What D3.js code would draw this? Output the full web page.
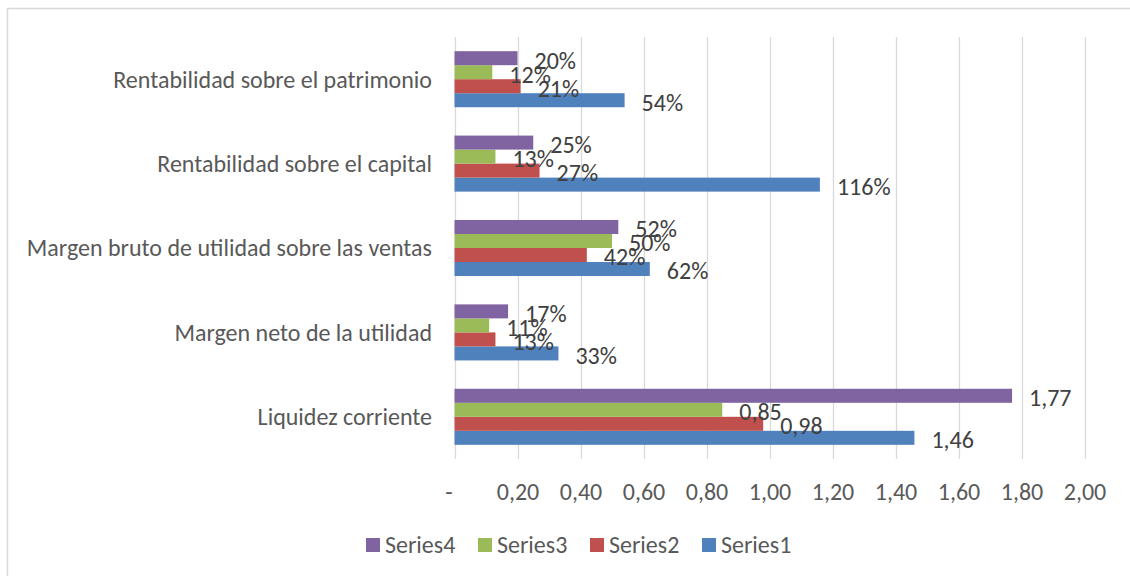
<!DOCTYPE html>
<html>
<head>
<meta charset="utf-8">
<script src="https://cdn.jsdelivr.net/npm/d3@7"></script>
<style>
  body { margin: 0; background: #ffffff; }
  text { font-family: Carlito, Lato, "Liberation Sans", sans-serif; }
</style>
</head>
<body>
<div id="chart"></div>
<script>
//Chart data, categories listed bottom to top
var categories = ["Liquidez corriente", "Margen neto de la utilidad", "Margen bruto de utilidad sobre las ventas", "Rentabilidad sobre el capital", "Rentabilidad sobre el patrimonio"];
var labelFormats = ["num", "pct", "pct", "pct", "pct"];
var seriesNames = ["Series1", "Series2", "Series3", "Series4"];
var series1 = [1.46, 0.33, 0.62, 1.16, 0.54];
var series2 = [0.98, 0.13, 0.42, 0.27, 0.21];
var series3 = [0.85, 0.11, 0.50, 0.13, 0.12];
var series4 = [1.77, 0.17, 0.52, 0.25, 0.20];
var tickValues = [0, 0.2, 0.4, 0.6, 0.8, 1.0, 1.2, 1.4, 1.6, 1.8, 2.0];
var colors = ["#4F81BD", "#C0504D", "#9BBB59", "#8064A2"];

var allSeries = [series1, series2, series3, series4];

//Canvas size
var svgWidth = 1130;
var svgHeight = 576;
var fontSize = "24px";

var svg = d3.select("#chart")
    .append("svg")
    .attr("width", svgWidth)
    .attr("height", svgHeight);

//Chart border
svg.append("rect")
    .attr("x", 7.5)
    .attr("y", 8.5)
    .attr("width", 1140)
    .attr("height", 600)
    .attr("fill", "none")
    .attr("stroke", "#D9D9D9")
    .attr("stroke-width", 1.5);

//Plot area
var plot = {left: 454.5, right: 1084.5, top: 37, bottom: 459};

var xScale = d3.scaleLinear()
    .domain([0, 2])
    .range([plot.left, plot.right]);

//Categories run bottom to top
var yScale = d3.scaleBand()
    .domain(categories)
    .range([plot.bottom, plot.top])
    .paddingInner(0.336)
    .paddingOuter(0.168);

//Series inside a group, Series1 at the bottom
var ySub = d3.scaleBand()
    .domain(seriesNames)
    .range([yScale.bandwidth(), 0]);

//Gridlines
svg.append("g")
    .selectAll("line")
    .data(tickValues)
    .enter()
    .append("line")
    .attr("x1", d => Math.round(xScale(d)) + 0.5)
    .attr("x2", d => Math.round(xScale(d)) + 0.5)
    .attr("y1", plot.top)
    .attr("y2", plot.bottom)
    .attr("stroke", "#D9D9D9")
    .attr("stroke-width", 1.3);

//Bottom axis tick labels
var bottomAxis = d3.axisBottom(xScale)
    .tickValues(tickValues)
    .tickSize(0)
    .tickPadding(0)
    .tickFormat(d => d === 0 ? "-" : d3.format(".2f")(d).replace(".", ","));

var axisGroup = svg.append("g")
    .attr("transform", `translate(0, ${plot.bottom})`)
    .call(bottomAxis);

axisGroup.select(".domain").remove();
axisGroup.selectAll("text")
    .attr("y", 33)
    .attr("dy", "0.35em")
    .attr("dx", d => d === 0 ? -6 : 0)
    .attr("fill", "#595959")
    .style("font-size", fontSize);

//Category labels on the left
svg.append("g")
    .selectAll("text")
    .data(categories)
    .enter()
    .append("text")
    .attr("x", 432)
    .attr("y", d => yScale(d) + yScale.bandwidth() / 2)
    .attr("dy", "0.35em")
    .attr("text-anchor", "end")
    .attr("fill", "#595959")
    .style("font-size", fontSize)
    .text(d => d);

//Bars
var groups = svg.append("g")
    .selectAll("g")
    .data(categories)
    .enter()
    .append("g")
    .attr("transform", d => `translate(0, ${yScale(d)})`);

var barData = function(cat, i) {
  return seriesNames.map(function(s, j) {
    return {series: s, value: allSeries[j][i], color: colors[j], fmt: labelFormats[i]};
  });
};

groups.selectAll("rect")
    .data(barData)
    .enter()
    .append("rect")
    .attr("x", xScale(0))
    .attr("y", d => ySub(d.series))
    .attr("width", d => xScale(d.value) - xScale(0))
    .attr("height", ySub.bandwidth())
    .attr("fill", d => d.color);

//Data labels
groups.selectAll("text")
    .data(barData)
    .enter()
    .append("text")
    .attr("x", d => xScale(d.value) + 17)
    .attr("y", d => ySub(d.series) + ySub.bandwidth() / 2 + 2)
    .attr("dy", "0.35em")
    .attr("fill", "#404040")
    .style("font-size", fontSize)
    .text(d => d.fmt === "pct" ? Math.round(d.value * 100) + "%" : d3.format(".2f")(d.value).replace(".", ","));

//Legend, Series4 first
var legendOrder = seriesNames.slice().reverse();
var legend = svg.append("g")
    .selectAll("g")
    .data(legendOrder)
    .enter()
    .append("g")
    .attr("transform", (d, i) => `translate(${366 + i * 112}, 538)`);

legend.append("rect")
    .attr("width", 14)
    .attr("height", 14)
    .attr("fill", d => colors[seriesNames.indexOf(d)]);

legend.append("text")
    .attr("x", 19)
    .attr("y", 7)
    .attr("dy", "0.35em")
    .attr("fill", "#595959")
    .style("font-size", fontSize)
    .text(d => d);
</script>
</body>
</html>
